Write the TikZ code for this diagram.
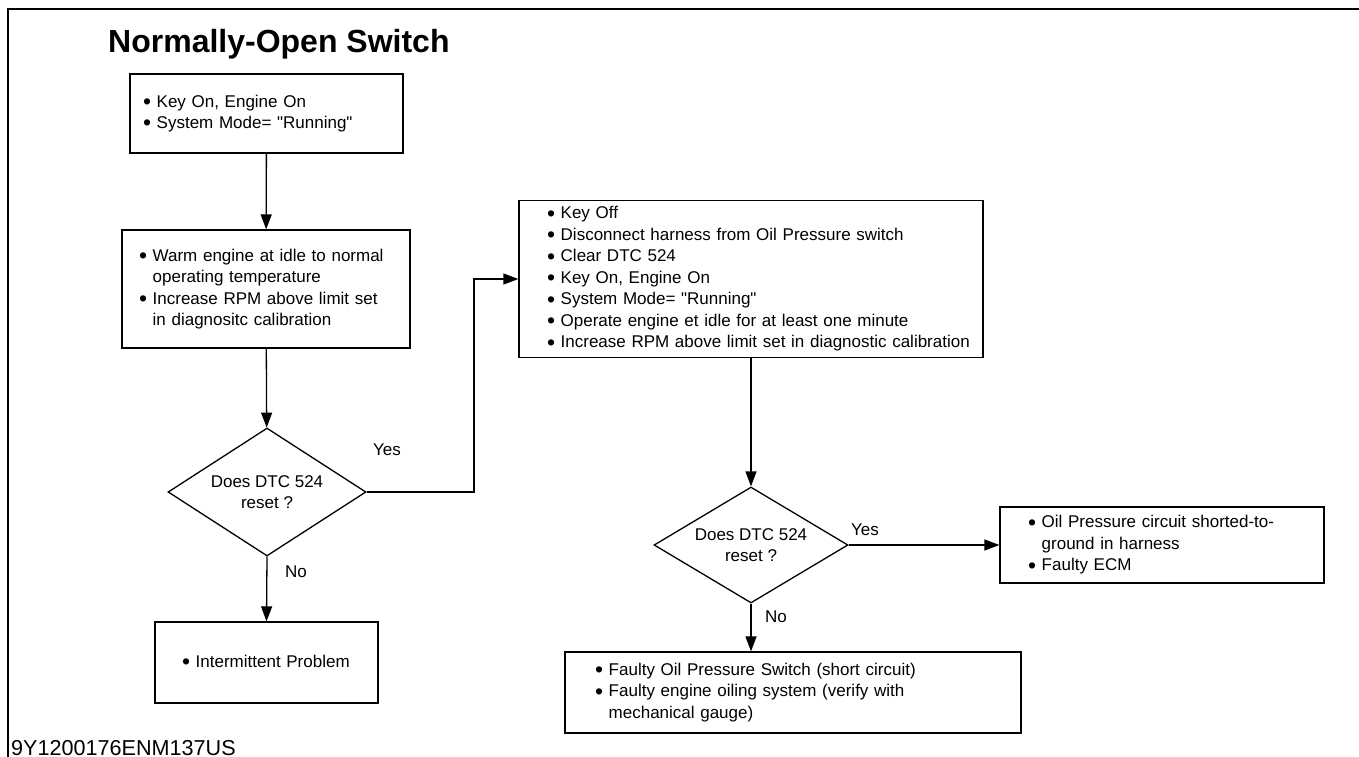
\documentclass[tikz,border=0pt]{standalone}
\usepackage{fontspec}
\setmainfont{Liberation Sans}
\usetikzlibrary{arrows.meta, shapes.geometric}
\newcommand{\bul}{\raisebox{-2.3pt}{\scalebox{1.35}{\textbullet}}\ }
\newcommand{\bulin}{\hspace*{18pt}\bul}
\newcommand{\ind}{\hphantom{\bul}}
\newcommand{\bodyfont}{\fontsize{17}{21.5}\selectfont}
\newcommand{\qt}{\textquotedbl}

\begin{document}
\begin{tikzpicture}[x=1pt, y=-1pt,
  box/.style={draw, line width=1.3pt, align=left, font=\bodyfont, inner ysep=0pt},
  dec/.style={draw, diamond, aspect=1.7, inner sep=0pt, line width=1.3pt, align=center, font=\bodyfont, minimum width=198pt, minimum height=128pt},
  arr/.style={-{Triangle[length=15pt, width=11pt]}, line width=1.3pt},
  lbl/.style={font=\bodyfont, inner sep=0pt},
]
  \useasboundingbox (0,0) rectangle (1359,757);
  \draw[line width=2.5pt] (8,757) -- (8,9) -- (1359,9);

  \node[anchor=base west, inner sep=0pt, font=\bfseries\fontsize{32}{36}\selectfont] (title) at (108,53) {Normally-Open Switch};

  \node[box, inner xsep=13pt, text width=247pt, minimum height=79pt] (start) at (266.5,113.5) {\bul Key On, Engine On\\\bul System Mode= \qt Running\qt};
  \node[box, inner xsep=17pt, text width=254pt, minimum height=118pt] (warm) at (266,289) {\bul Warm engine at idle to normal\\\ind operating temperature\\\bul Increase RPM above limit set\\\ind in diagnositc calibration};
  \node[dec] (reset1) at (267,492) {Does DTC 524\\reset ?};
  \node[box, inner xsep=27pt, text width=169pt, minimum height=81pt] (inter) at (266.5,662.5) {\bul Intermittent Problem};

  \node[box, inner xsep=10pt, text width=444pt, minimum height=157pt] (keyoff) at (751,279) {\bulin Key Off\\\bulin Disconnect harness from Oil Pressure switch\\\bulin Clear DTC 524\\\bulin Key On, Engine On\\\bulin System Mode= \qt Running\qt\\\bulin Operate engine et idle for at least one minute\\\bulin Increase RPM above limit set in diagnostic calibration};
  \node[dec, minimum width=194pt, minimum height=116pt] (reset2) at (751,545) {Does DTC 524\\reset ?};
  \node[box, inner xsep=28pt, text width=268pt, minimum height=76pt] (shorted) at (1162,545) {\bul Oil Pressure circuit shorted-to-\\\ind ground in harness\\\bul Faulty ECM};
  \node[box, inner xsep=30pt, text width=396pt, minimum height=81pt] (faulty) at (793,692.5) {\bul Faulty Oil Pressure Switch (short circuit)\\\bul Faulty engine oiling system (verify with\\\ind mechanical gauge)};

  \coordinate (bend) at (474,492);

  \draw[arr] (start) -- (warm);
  \draw[arr] (warm) -- (reset1);
  \draw[arr] (reset1.east) -- (bend) |- (keyoff.west);
  \draw[arr] (reset1.south) -- (inter.north);
  \draw[arr] (keyoff.south) -- (reset2.north);
  \draw[arr] (reset2.east) -- (shorted.west);
  \draw[arr] (reset2.south) -- (reset2.south |- faulty.north);

  \node[lbl] (yes1) at (387,450) {Yes};
  \node[lbl] (no1) at (296,572) {No};
  \node[lbl] (yes2) at (865,530) {Yes};
  \node[lbl] (no2) at (776,617) {No};

  \node[anchor=base west, inner sep=0pt, font=\fontsize{21.6}{24}\selectfont] (code) at (11,755) {9Y1200176ENM137US};
\end{tikzpicture}
\end{document}
